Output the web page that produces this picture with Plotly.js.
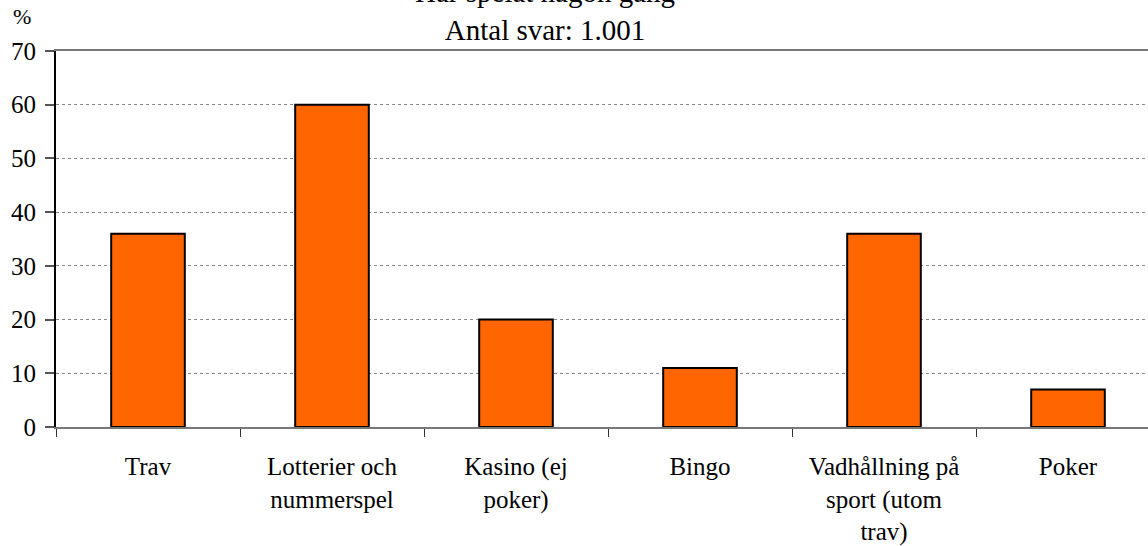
<!DOCTYPE html>
<html>
<head>
<meta charset="utf-8">
<script src="https://cdn.plot.ly/plotly-3.0.1.min.js"></script>
<style>
html,body{margin:0;padding:0;overflow:hidden;background:#fff;}
#chart{width:1162px;height:546px;}
</style>
</head>
<body>
<div id="chart"></div>
<script>
const categories = ["Trav", "Lotterier och<br>nummerspel", "Kasino (ej<br>poker)", "Bingo", "Vadhållning på<br>sport (utom<br>trav)", "Poker"];
const values = [36, 60, 20, 11, 36, 7];
const yTicks = [0, 10, 20, 30, 40, 50, 60, 70];
const titleLine1 = "Har spelat någon gång";
const titleLine2 = "Antal svar: 1.001";
const yUnit = "%";

const font = "Liberation Serif, Times New Roman, serif";

const trace = {
  type: "bar",
  x: categories,
  y: values,
  width: 0.4,
  marker: {color: "#FF6600", line: {color: "#000000", width: 2}},
  hoverinfo: "x+y"
};

const layout = {
  width: 1162,
  height: 546,
  margin: {l: 56, r: 2, t: 51, b: 119},
  paper_bgcolor: "#ffffff",
  plot_bgcolor: "#ffffff",
  showlegend: false,
  font: {family: font, color: "#000", size: 25},
  xaxis: {
    type: "category",
    tickson: "boundaries",
    ticks: "outside",
    ticklen: 8,
    tickwidth: 1,
    tickcolor: "#333",
    showline: true,
    linecolor: "#777777",
    linewidth: 2,
    mirror: true,
    showgrid: false,
    tickfont: {family: font, size: 25, color: "#000"},
    ticklabelstandoff: 16,
    fixedrange: true
  },
  yaxis: {
    range: [0, 70],
    tickvals: yTicks,
    ticktext: yTicks.map(String),
    ticks: "outside",
    ticklen: 9,
    tickwidth: 2,
    tickcolor: "#555",
    showline: true,
    linecolor: "#000",
    linewidth: 2,
    showgrid: true,
    gridcolor: "#888888",
    gridwidth: 1,
    griddash: "dot",
    zeroline: false,
    tickfont: {family: font, size: 25, color: "#000"},
    ticklabelstandoff: 4,
    fixedrange: true
  },
  annotations: [
    {
      text: titleLine1 + "<br>" + titleLine2,
      xref: "paper", yref: "paper",
      x: 0.443, y: 1, xanchor: "center", yanchor: "bottom",
      yshift: 3,
      showarrow: false,
      font: {family: font, size: 29, color: "#000"}
    },
    {
      text: yUnit,
      xref: "paper", yref: "paper",
      x: 0, y: 1, xanchor: "center", yanchor: "bottom",
      xshift: -34, yshift: 20,
      showarrow: false,
      font: {family: font, size: 22, color: "#000"}
    }
  ]
};

Plotly.newPlot("chart", [trace], layout, {displayModeBar: false, staticPlot: true});
</script>
</body>
</html>
